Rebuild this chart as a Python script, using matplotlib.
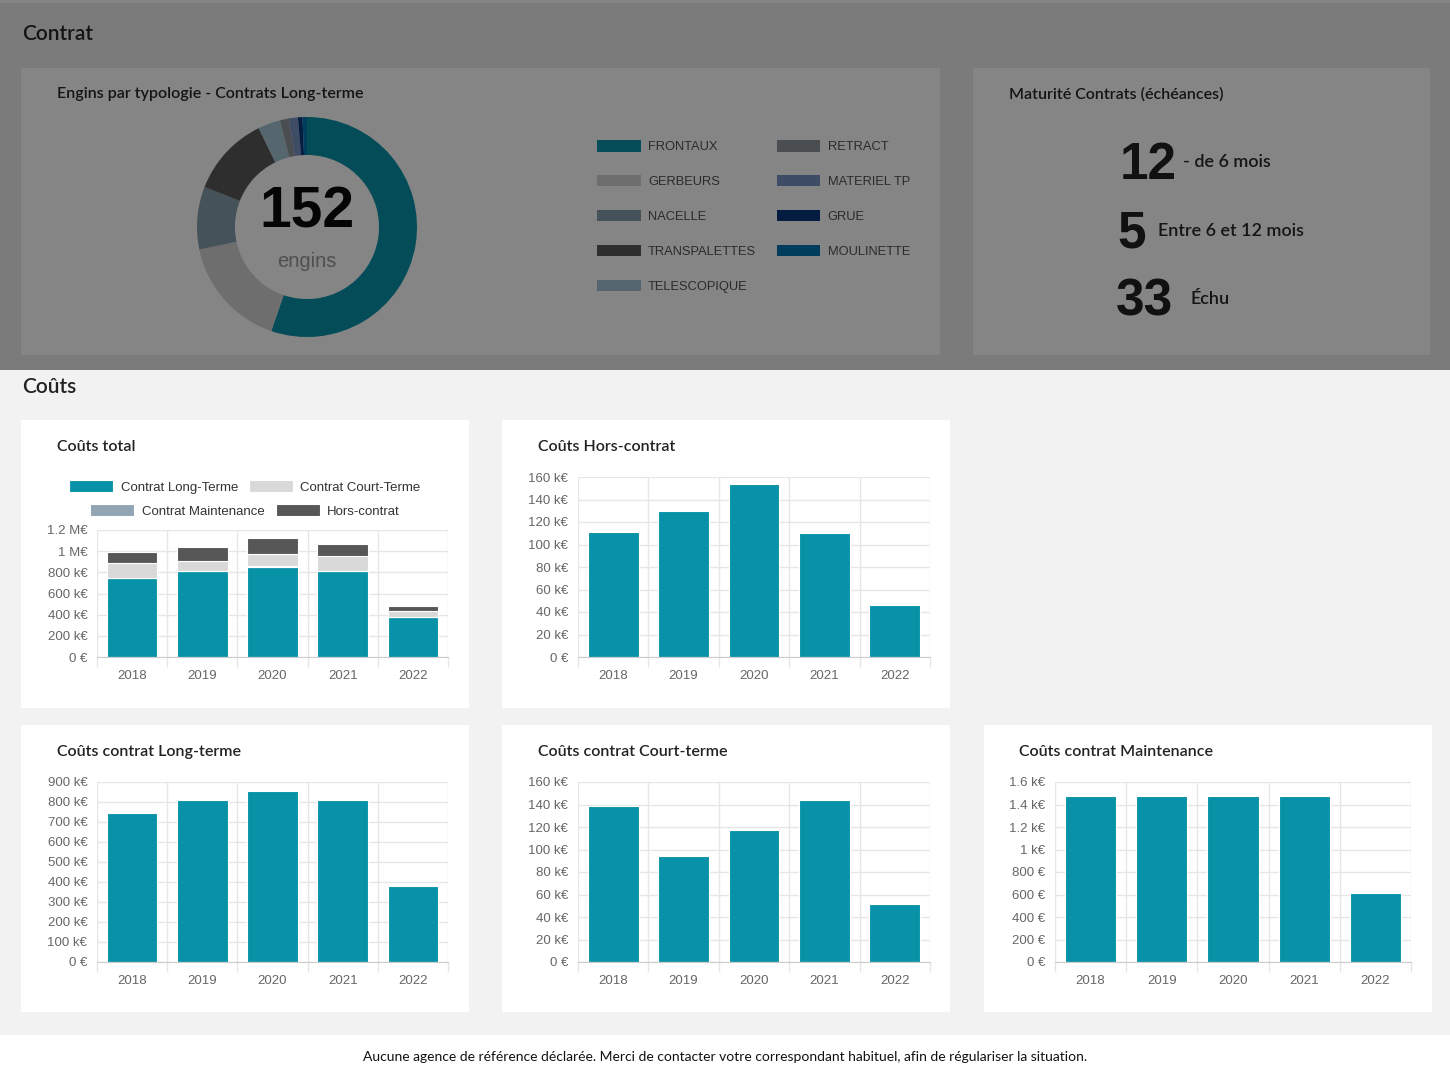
import matplotlib
matplotlib.use('Agg')
import matplotlib.pyplot as plt
import matplotlib.patches as mpatches
from matplotlib.ticker import FuncFormatter
import numpy as np

W, H = 1450, 1080

# --- data ---
annees = ['2018', '2019', '2020', '2021', '2022']
long_terme = [745000, 810000, 855000, 810000, 380000]
court_terme = [139000, 94000, 117000, 144000, 52000]
hors_contrat = [111000, 130000, 154000, 110000, 46000]
maintenance = [1475, 1475, 1475, 1475, 613]

typologies = ['FRONTAUX', 'GERBEURS', 'NACELLE', 'TRANSPALETTES', 'TELESCOPIQUE',
              'RETRACT', 'MATERIEL TP', 'GRUE', 'MOULINETTE']
nb_engins = [84, 25, 14, 18, 5, 2, 2, 1, 1]
couleurs_typo = ['#044c57', '#6e6e6e', '#46525a', '#2e2e2e', '#56666f',
                 '#4a4e51', '#3f4c66', '#031c40', '#003d5c']

maturite_nb = ['12', '5', '33']
maturite_lib = ['- de 6 mois', 'Entre 6 et 12 mois', 'Échu']

series_total = ['Contrat Long-Terme', 'Contrat Court-Terme', 'Contrat Maintenance', 'Hors-contrat']

BLEU = '#0892a8'
TITRE = 'Lato'
TXT = 'Liberation Sans'


def box(x0, y0, x1, y1):
    return [x0 / W, 1 - y1 / H, (x1 - x0) / W, (y1 - y0) / H]


def rect(x0, y0, x1, y1, color):
    fig.patches.append(mpatches.Rectangle((x0 / W, 1 - y1 / H), (x1 - x0) / W, (y1 - y0) / H,
                                          transform=fig.transFigure, facecolor=color,
                                          edgecolor='none', zorder=-1))


def txt(x, y, s, **kw):
    kw.setdefault('family', TITRE)
    return fig.text(x / W, 1 - y / H, s, **kw)


def eur(v, pos=None):
    if v == 0:
        return '0 €'
    if v >= 1e6:
        return f'{v / 1e6:g} M€'
    if v >= 1e3:
        return f'{v / 1e3:g} k€'
    return f'{v:g} €'


def style_axes(ax, ymax, step):
    ax.set_xlim(-0.5, 4.5)
    ax.set_ylim(0, ymax)
    ax.set_yticks(range(0, ymax + 1, step))
    ax.yaxis.set_major_formatter(FuncFormatter(eur))
    ax.set_xticks(range(5))
    ax.set_xticklabels(annees)
    ax.set_xticks(np.arange(-0.5, 5, 1), minor=True)
    ax.grid(axis='y', color='#e6e6e6', lw=1)
    ax.grid(axis='x', which='minor', color='#e6e6e6', lw=1)
    ax.tick_params(axis='x', which='major', length=0, pad=9.5, labelsize=9.5, labelcolor='#666666')
    ax.tick_params(axis='x', which='minor', length=7.5, color='#e6e6e6', width=1)
    ax.tick_params(axis='y', length=0, pad=7, labelsize=9.5, labelcolor='#666666')
    for lab in ax.get_xticklabels() + ax.get_yticklabels():
        lab.set_family(TXT)
    for s in ['top', 'right', 'left']:
        ax.spines[s].set_visible(False)
    ax.spines['bottom'].set_color('#cccccc')
    ax.set_axisbelow(True)


def simple_bar(pos, valeurs, ymax, step):
    ax = fig.add_axes(box(*pos))
    ax.bar(range(5), valeurs, width=0.72, color=BLEU, edgecolor='white', lw=0.8)
    style_axes(ax, ymax, step)
    return ax


fig = plt.figure(figsize=(W / 100, H / 100), dpi=100)
fig.patch.set_facecolor('#f2f2f2')

# dimmed top area
rect(0, 0, W, 370, '#7b7b7b')
rect(0, 0, W, 3, '#858585')
rect(21, 68, 940, 355, '#858585')
rect(973, 68, 1430, 355, '#858585')

# white cards
for c in [(21, 420, 469, 708), (502, 420, 950, 708), (21, 725, 469, 1012),
          (502, 725, 950, 1012), (984, 725, 1432, 1012)]:
    rect(*c, 'white')
rect(0, 1035, W, H, 'white')

# headings
tw = 'semibold'
txt(22, 34, 'Contrat', fontsize=15, fontweight=tw, color='#141414', va='center')
txt(22, 387, 'Coûts', fontsize=15, fontweight=tw, color='#222222', va='center')
txt(57, 94, 'Engins par typologie - Contrats Long-terme', fontsize=11.5, fontweight=tw,
    color='#141414', va='center')
txt(1009, 94, 'Maturité Contrats (échéances)', fontsize=11.5, fontweight=tw, color='#141414', va='center')
txt(57, 447, 'Coûts total', fontsize=11.5, fontweight=tw, color='#222222', va='center')
txt(538, 447, 'Coûts Hors-contrat', fontsize=11.5, fontweight=tw, color='#222222', va='center')
txt(57, 752, 'Coûts contrat Long-terme', fontsize=11.5, fontweight=tw, color='#222222', va='center')
txt(538, 752, 'Coûts contrat Court-terme', fontsize=11.5, fontweight=tw, color='#222222', va='center')
txt(1019, 752, 'Coûts contrat Maintenance', fontsize=11.5, fontweight=tw, color='#222222', va='center')
txt(725, 1057, 'Aucune agence de référence déclarée. Merci de contacter votre correspondant habituel, '
    'afin de régulariser la situation.', fontsize=10, color='#111111', ha='center', va='center')

# donut
axp = fig.add_axes(box(197, 117, 417, 337))
wedges, _ = axp.pie(nb_engins, colors=couleurs_typo, startangle=90, counterclock=False,
                    wedgeprops=dict(width=0.345, linewidth=0))
axp.set_xlim(-1, 1)
axp.set_ylim(-1, 1)
axp.set_aspect('equal')
axp.text(0, 0.13, str(sum(nb_engins)), ha='center', va='center', fontsize=41,
         fontweight='bold', family=TXT, color='#050505')
axp.text(0, -0.31, 'engins', ha='center', va='center', fontsize=14.5, family=TXT, color='#4f4f4f')

fig.legend(wedges, typologies, loc='upper left', bbox_to_anchor=(597 / W, 1 - 140 / H),
           ncol=2, frameon=False, borderpad=0, borderaxespad=0, handlelength=3.4,
           handleheight=1.0, handletextpad=0.55, labelspacing=1.68, columnspacing=1.58,
           prop={'family': TXT, 'size': 9.3}, labelcolor='#2b2b2b')

# maturity
ys_base = [179, 247, 315]
xs_nb = [1120, 1117, 1116]
xs_lib = [1183, 1158, 1190]
ys_lib = [167, 236, 304]
for nb, lib, yb, xn, xl, yl in zip(maturite_nb, maturite_lib, ys_base, xs_nb, xs_lib, ys_lib):
    txt(xn, yb, nb, fontsize=37, fontweight='bold', family=TXT, color='#111111', va='baseline')
    txt(xl, yl, lib, fontsize=13, fontweight=tw, color='#151515', va='baseline')

# stacked total
axt = fig.add_axes(box(97, 530, 448, 657))
bas = np.zeros(5)
couleurs_total = [BLEU, '#d9d9d9', '#91a5b4', '#575757']
handles = {}
for nom, vals, col in [(series_total[0], long_terme, couleurs_total[0]),
                       (series_total[2], maintenance, couleurs_total[2]),
                       (series_total[1], court_terme, couleurs_total[1]),
                       (series_total[3], hors_contrat, couleurs_total[3])]:
    b = axt.bar(range(5), vals, bottom=bas, width=0.72, color=col, edgecolor='white', lw=0.8)
    handles[nom] = b
    bas = bas + np.array(vals)
style_axes(axt, 1200000, 200000)

leg_kw = dict(ncol=2, frameon=False, borderpad=0, borderaxespad=0, handlelength=3.33,
              handleheight=1.0, handletextpad=0.55, columnspacing=0.85,
              prop={'family': TXT, 'size': 9.5}, labelcolor='#333333', loc='center')
fig.legend([handles[n] for n in series_total[:2]], series_total[:2],
           bbox_to_anchor=(245 / W, 1 - 487 / H), **leg_kw)
fig.legend([handles[n] for n in series_total[2:]], series_total[2:],
           bbox_to_anchor=(245 / W, 1 - 511 / H), **leg_kw)

simple_bar((578, 477, 930, 657), hors_contrat, 160000, 20000)
simple_bar((97, 782, 448, 962), long_terme, 900000, 100000)
simple_bar((578, 782, 930, 962), court_terme, 160000, 20000)
simple_bar((1055, 782, 1411, 962), maintenance, 1600, 200)

fig.savefig('out.png', dpi=100, facecolor=fig.get_facecolor())
